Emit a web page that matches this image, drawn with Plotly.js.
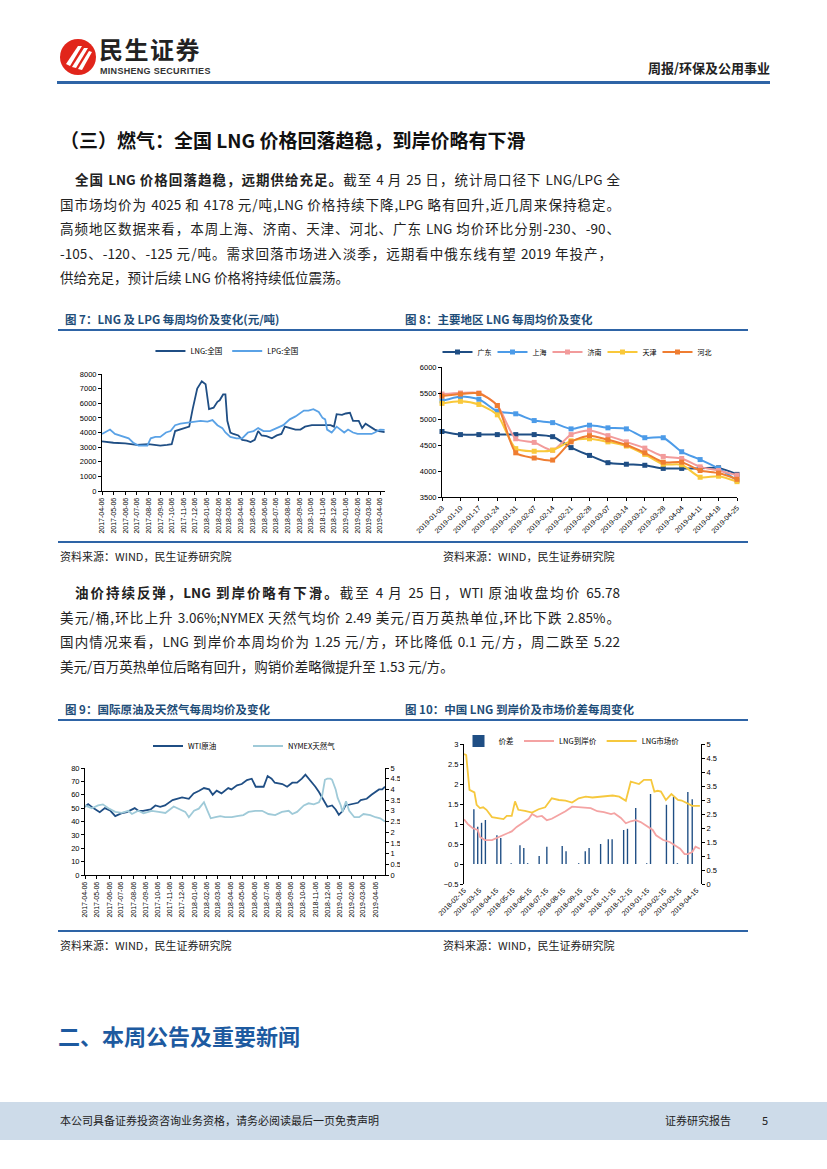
<!DOCTYPE html>
<html><head><meta charset="utf-8">
<script src="https://cdn.plot.ly/plotly-3.0.1.min.js"></script>
<style>
body{margin:0;width:827px;height:1169px;position:relative;background:#fff;font-family:"Noto Sans CJK SC",sans-serif;overflow:hidden}
.t{position:absolute;white-space:nowrap;color:#222;line-height:1}
.j{text-align:justify;text-align-last:justify}
.ch{position:absolute}
.hl{position:absolute;background:#2e64a6}
.cap{position:absolute;white-space:nowrap;color:#1f4e79;font-weight:bold;font-size:11.5px;line-height:1}
.src{position:absolute;white-space:nowrap;color:#222;font-size:11px;line-height:1}
</style></head><body>

<!-- header -->
<svg style="position:absolute;left:58px;top:37px" width="42" height="42" viewBox="0 0 42 42">
  <circle cx="20" cy="20" r="18" fill="#e1251b"/>
  <path d="M8 27 L20 9 L24 9 L12 29 Z" fill="#fff"/>
  <path d="M14 30 L26 11 L30 11 L18 31 Z" fill="#fff"/>
  <path d="M20 32 L31 14 L34 15 L24 33 Z" fill="#fff"/>
</svg>
<div class="t" style="left:99px;top:37px;font-size:24px;font-weight:bold;color:#222;letter-spacing:1.5px">民生证券</div>
<div class="t" style="left:100px;top:67px;font-size:9px;font-weight:bold;color:#333;font-family:'Liberation Sans Narrow','Liberation Sans',sans-serif;letter-spacing:0.3px">MINSHENG SECURITIES</div>
<div class="t" style="right:57px;top:61px;font-size:13px;font-weight:bold;color:#222">周报/环保及公用事业</div>
<div class="hl" style="left:57px;top:81px;width:713px;height:3px"></div>

<div class="t" style="left:60px;top:130px;font-size:19px;font-weight:bold;color:#111">（三）燃气：全国 LNG 价格回落趋稳，到岸价略有下滑</div>

<div class="t j" style="left:75px;top:173px;width:545px;font-size:13.5px"><b>全国 LNG 价格回落趋稳，远期供给充足。</b>截至 4 月 25 日，统计局口径下 LNG/LPG 全</div>
<div class="t j" style="left:60px;top:197.5px;width:560px;font-size:13.5px">国市场均价为 4025 和 4178 元/吨,LNG 价格持续下降,LPG 略有回升,近几周来保持稳定。</div>
<div class="t j" style="left:60px;top:222px;width:560px;font-size:13.5px">高频地区数据来看，本周上海、济南、天津、河北、广东 LNG 均价环比分别-230、-90、</div>
<div class="t j" style="left:60px;top:246.5px;width:552px;font-size:13.5px">-105、-120、-125 元/吨。需求回落市场进入淡季，远期看中俄东线有望 2019 年投产，</div>
<div class="t" style="left:60px;top:271px;font-size:13.5px">供给充足，预计后续 LNG 价格将持续低位震荡。</div>

<div class="cap" style="left:65px;top:314px">图 7：LNG 及 LPG 每周均价及变化(元/吨)</div>
<div class="cap" style="left:405px;top:314px">图 8：主要地区 LNG 每周均价及变化</div>
<div class="hl" style="left:58px;top:329px;width:690px;height:1.5px"></div>

<div id="c7" class="ch" style="left:60px;top:335px;width:335px;height:205px"></div>
<div id="c8" class="ch" style="left:400px;top:335px;width:350px;height:205px"></div>

<div class="hl" style="left:58px;top:541px;width:690px;height:1.5px"></div>
<div class="src" style="left:60px;top:551px">资料来源：WIND，民生证券研究院</div>
<div class="src" style="left:443px;top:551px">资料来源：WIND，民生证券研究院</div>

<div class="t j" style="left:75px;top:586px;width:545px;font-size:13.5px"><b>油价持续反弹，LNG 到岸价略有下滑。</b>截至 4 月 25 日，WTI 原油收盘均价 65.78</div>
<div class="t j" style="left:60px;top:610.5px;width:560px;font-size:13.5px">美元/桶,环比上升 3.06%;NYMEX 天然气均价 2.49 美元/百万英热单位,环比下跌 2.85%。</div>
<div class="t j" style="left:60px;top:635px;width:560px;font-size:13.5px">国内情况来看，LNG 到岸价本周均价为 1.25 元/方，环比降低 0.1 元/方，周二跌至 5.22</div>
<div class="t" style="left:60px;top:659.5px;font-size:13.5px">美元/百万英热单位后略有回升，购销价差略微提升至 1.53 元/方。</div>

<div class="cap" style="left:65px;top:704px">图 9：国际原油及天然气每周均价及变化</div>
<div class="cap" style="left:405px;top:704px">图 10：中国 LNG 到岸价及市场价差每周变化</div>
<div class="hl" style="left:58px;top:719px;width:690px;height:1.5px"></div>

<div id="c9" class="ch" style="left:55px;top:730px;width:345px;height:200px"></div>
<div id="c10" class="ch" style="left:400px;top:730px;width:350px;height:200px"></div>

<div class="hl" style="left:58px;top:930px;width:690px;height:1.5px"></div>
<div class="src" style="left:60px;top:940px">资料来源：WIND，民生证券研究院</div>
<div class="src" style="left:443px;top:940px">资料来源：WIND，民生证券研究院</div>

<div class="t" style="left:58px;top:1024px;font-size:22px;font-weight:bold;color:#1d5aa0">二、本周公告及重要新闻</div>

<div style="position:absolute;left:0;top:1102px;width:827px;height:38px;background:#cddbe9"></div>
<div class="t" style="left:60px;top:1115px;font-size:11px">本公司具备证券投资咨询业务资格，请务必阅读最后一页免责声明</div>
<div class="t" style="left:665px;top:1115px;font-size:11px">证券研究报告</div>
<div class="t" style="left:762px;top:1115px;font-size:11px">5</div>

<script>
// ---------- Chart 7 data ----------
const monthTicks = ['2017-04-06','2017-05-06','2017-06-06','2017-07-06','2017-08-06','2017-09-06','2017-10-06','2017-11-06','2017-12-06','2018-01-06','2018-02-06','2018-03-06','2018-04-06','2018-05-06','2018-06-06','2018-07-06','2018-08-06','2018-09-06','2018-10-06','2018-11-06','2018-12-06','2019-01-06','2019-02-06','2019-03-06','2019-04-06'];
const lngDates = ['2017-04-06','2017-05-06','2017-06-06','2017-07-06','2017-08-06','2017-09-06','2017-09-24','2017-10-06','2017-10-15','2017-11-06','2017-11-21','2017-11-30','2017-12-12','2017-12-24','2018-01-03','2018-01-12','2018-01-24','2018-02-03','2018-02-09','2018-02-18','2018-02-24','2018-03-01','2018-03-09','2018-03-17','2018-03-30','2018-04-09','2018-04-21','2018-05-01','2018-05-12','2018-05-21','2018-05-30','2018-06-12','2018-06-26','2018-07-09','2018-07-21','2018-07-30','2018-08-12','2018-08-27','2018-09-09','2018-09-21','2018-10-09','2018-10-27','2018-11-09','2018-11-27','2018-12-06','2018-12-13','2018-12-27','2019-01-06','2019-01-17','2019-01-25','2019-02-09','2019-02-18','2019-02-27','2019-03-09','2019-03-23','2019-04-03','2019-04-18'];
const lngVals = [3400,3300,3250,3150,3200,3100,3150,3200,4100,4300,4400,5600,7000,7500,7300,5600,5700,6100,6200,6600,6600,4800,4000,3900,3800,3500,3450,3350,3500,4100,3800,3750,3600,3800,3900,4400,4300,4200,4200,4400,4500,4500,4550,4500,4400,5250,5200,5300,5350,4800,4800,4300,4600,4450,4200,4100,4025];
const lpgDates = ['2017-04-06','2017-04-19','2017-04-27','2017-05-10','2017-05-24','2017-06-06','2017-06-15','2017-06-27','2017-07-11','2017-07-24','2017-08-03','2017-08-12','2017-08-24','2017-09-06','2017-09-21','2017-10-03','2017-10-15','2017-10-29','2017-11-15','2017-12-03','2017-12-21','2018-01-08','2018-01-21','2018-02-03','2018-02-16','2018-02-24','2018-03-09','2018-03-25','2018-04-09','2018-04-24','2018-05-09','2018-05-21','2018-06-04','2018-06-21','2018-07-09','2018-07-26','2018-08-12','2018-08-27','2018-09-18','2018-09-30','2018-10-13','2018-10-27','2018-11-06','2018-11-13','2018-11-18','2018-11-30','2018-12-13','2018-12-27','2019-01-02','2019-01-12','2019-01-25','2019-02-06','2019-03-02','2019-03-15','2019-03-23','2019-04-06','2019-04-18'];
const lpgVals = [3900,4100,4200,3900,3800,3700,3600,3300,3100,3100,3100,3600,3700,3700,4000,4100,4500,4600,4650,4700,4800,4750,4850,4500,4300,4000,3700,3600,3600,4000,4100,4300,4100,4100,4300,4500,4900,5100,5500,5500,5600,5400,5000,4900,4200,4000,4400,4100,4000,4200,4000,3900,3900,3900,4000,4200,4178];

// ---------- Chart 8 data ----------
const c8Dates = ['2019-01-03','2019-01-10','2019-01-17','2019-01-24','2019-01-31','2019-02-07','2019-02-14','2019-02-21','2019-02-28','2019-03-07','2019-03-14','2019-03-21','2019-03-28','2019-04-04','2019-04-11','2019-04-18','2019-04-25'];
const guangdong = [4760,4700,4700,4700,4700,4700,4660,4450,4300,4160,4130,4110,4050,4050,4050,4060,3935];
const shanghai = [5350,5430,5380,5150,5100,4970,4930,4810,4880,4830,4810,4640,4640,4370,4220,4050,3820];
const jinan = [5480,5500,5500,5260,4620,4550,4400,4700,4780,4680,4560,4440,4280,4240,4080,4010,3920];
const tianjin = [5300,5340,5280,5080,4430,4380,4400,4580,4620,4560,4480,4320,4130,4120,3880,3900,3795];
const hebei = [5440,5480,5490,5260,4350,4250,4210,4560,4680,4600,4500,4350,4170,4170,4010,3960,3840];
const c8Names = ['广东','上海','济南','天津','河北'];

// ---------- Chart 9 data ----------
const wtiDates = ['2017-04-06','2017-04-14','2017-04-27','2017-05-13','2017-05-26','2017-06-09','2017-06-21','2017-06-29','2017-07-06','2017-07-20','2017-07-27','2017-08-09','2017-08-18','2017-08-30','2017-09-18','2017-09-30','2017-10-12','2017-10-24','2017-11-12','2017-11-24','2017-12-06','2017-12-23','2018-01-04','2018-01-18','2018-01-30','2018-02-12','2018-02-21','2018-03-03','2018-03-15','2018-04-01','2018-04-09','2018-04-23','2018-05-05','2018-05-18','2018-05-30','2018-06-09','2018-06-21','2018-06-29','2018-07-09','2018-07-19','2018-07-27','2018-08-15','2018-08-27','2018-09-09','2018-09-21','2018-10-03','2018-10-12','2018-10-24','2018-11-06','2018-11-15','2018-11-24','2018-12-06','2018-12-18','2018-12-27','2019-01-04','2019-01-14','2019-01-21','2019-02-03','2019-02-21','2019-02-28','2019-03-15','2019-03-27','2019-04-15','2019-04-23','2019-04-30'];
const wtiVals = [51,53,50,47,50,48,44,45,46,47,48,50,48,48,49,52,51,52,56,57,58,57,61,63,65,64,60,63,61,65,64,67,68,71,72,66,66,66,74,72,69,68,66,69,69,72,75,71,66,62,57,51,52,49,45,48,52,53,54,56,57,60,64,64,66];
const nymexDates = ['2017-04-06','2017-04-23','2017-05-09','2017-05-21','2017-06-04','2017-06-21','2017-07-07','2017-07-24','2017-08-02','2017-08-18','2017-08-31','2017-09-21','2017-10-08','2017-10-25','2017-11-15','2017-12-02','2017-12-14','2017-12-23','2018-01-05','2018-01-17','2018-01-30','2018-02-08','2018-02-16','2018-02-28','2018-03-12','2018-03-24','2018-04-10','2018-04-23','2018-05-09','2018-05-22','2018-06-08','2018-06-25','2018-07-11','2018-07-28','2018-08-14','2018-08-31','2018-09-09','2018-09-21','2018-10-08','2018-10-20','2018-11-02','2018-11-15','2018-11-23','2018-11-30','2018-12-06','2018-12-14','2018-12-18','2018-12-27','2019-01-01','2019-01-09','2019-01-13','2019-01-22','2019-01-30','2019-02-12','2019-02-24','2019-03-07','2019-03-24','2019-04-06','2019-04-18','2019-04-30'];
const nymexVals = [3.25,3.12,3.25,3.3,3.12,2.95,2.9,3.0,2.85,3.0,2.88,3.0,2.95,2.9,3.2,3.05,2.95,2.7,3.0,3.1,3.4,3.0,2.65,2.7,2.75,2.7,2.7,2.75,2.8,2.95,3.0,3.0,2.85,2.8,2.95,3.0,2.85,2.95,3.25,3.35,3.3,3.4,3.7,4.45,4.5,4.5,4.45,4.0,3.6,3.25,2.95,3.45,3.0,2.7,2.7,2.85,2.8,2.7,2.65,2.5];
const c9Right = ['0','0.5','1','1.5','2','2.5','3','3.5','4','4.5','5'];

// ---------- Chart 10 data ----------
const c10Ticks = ['2018-02-15','2018-03-15','2018-04-15','2018-05-15','2018-06-15','2018-07-15','2018-08-15','2018-09-15','2018-10-15','2018-11-15','2018-12-15','2019-01-15','2019-02-15','2019-03-15','2019-04-15'];
const gapDates = ['2018-03-05','2018-03-12','2018-03-19','2018-03-26','2018-04-16','2018-04-23','2018-05-12','2018-05-28','2018-06-04','2018-06-11','2018-07-02','2018-07-16','2018-08-13','2018-08-20','2018-09-12','2018-09-24','2018-10-01','2018-10-22','2018-11-05','2018-11-12','2018-12-03','2018-12-10','2018-12-25','2019-01-14','2019-01-21','2019-02-19','2019-03-04','2019-03-11','2019-03-30','2019-04-07'];
const gapVals = [1.37,0.93,1.03,1.1,0.72,0.65,0.02,0.47,0.4,0.02,0.2,0.43,0.45,0.32,0.02,0.32,0.4,0.5,0.62,0.62,0.85,0.88,1.4,0.02,1.75,1.48,1.68,0.02,1.8,1.62];
const landDates = ['2018-02-15','2018-02-22','2018-03-03','2018-03-12','2018-03-16','2018-03-25','2018-04-07','2018-04-19','2018-05-01','2018-05-13','2018-05-22','2018-06-03','2018-06-13','2018-06-19','2018-06-28','2018-07-07','2018-07-16','2018-07-25','2018-08-07','2018-08-19','2018-08-31','2018-09-09','2018-09-22','2018-10-04','2018-10-16','2018-10-28','2018-11-10','2018-11-16','2018-11-28','2018-12-07','2018-12-16','2018-12-25','2019-01-03','2019-01-16','2019-01-25','2019-01-31','2019-02-13','2019-02-25','2019-03-09','2019-03-16','2019-03-24','2019-03-30','2019-04-07','2019-04-13','2019-04-21'];
const landVals = [2.31,2.14,1.99,1.93,1.68,1.57,1.57,1.68,1.78,1.88,2.04,2.21,2.33,2.5,2.4,2.43,2.28,2.33,2.46,2.6,2.76,2.74,2.71,2.71,2.6,2.57,2.5,2.53,2.36,2.17,2.24,2.28,2.21,2.04,1.93,1.74,1.57,1.5,1.36,1.26,1.07,1.07,1.14,1.33,1.26];
const mktDates = ['2018-02-15','2018-02-19','2018-02-25','2018-03-06','2018-03-10','2018-03-16','2018-03-22','2018-03-28','2018-04-07','2018-04-19','2018-04-28','2018-05-04','2018-05-13','2018-05-19','2018-05-25','2018-06-06','2018-06-19','2018-07-01','2018-07-13','2018-07-25','2018-08-07','2018-08-19','2018-08-31','2018-09-12','2018-09-25','2018-10-07','2018-10-19','2018-10-31','2018-11-13','2018-11-25','2018-12-07','2018-12-16','2018-12-25','2018-12-31','2019-01-09','2019-01-22','2019-01-28','2019-02-03','2019-02-09','2019-02-18','2019-02-28','2019-03-06','2019-03-12','2019-03-19','2019-03-28','2019-04-07','2019-04-21'];
const mktVals = [4.64,4.6,3.36,3.27,2.83,2.71,2.74,2.65,2.39,2.35,2.32,2.43,2.43,2.95,2.65,2.61,2.55,2.67,2.74,3.06,3.0,2.98,2.91,3.06,3.12,3.09,3.12,3.15,3.16,3.12,2.97,3.66,3.62,3.57,3.72,3.72,3.3,3.33,3.3,3.0,3.21,3.12,3.0,2.98,2.89,2.79,2.79];

// ---------- styles ----------
const numFont = {family:'Liberation Sans, Arial, sans-serif', size:7.5, color:'#000'};
const legFont = {family:'Noto Sans CJK SC, Liberation Sans, sans-serif', size:7.5, color:'#000'};
const ax = {showgrid:false, zeroline:false, showline:true, linecolor:'#000', linewidth:1,
  ticks:'outside', ticklen:3, tickcolor:'#000', tickwidth:1, tickfont:numFont};
const base = {paper_bgcolor:'rgba(0,0,0,0)', plot_bgcolor:'rgba(0,0,0,0)', showlegend:true};
const cfg = {staticPlot:true, displayModeBar:false};
const DARK = '#1f4e84';

// Chart 7
Plotly.newPlot('c7', [
  {x:lngDates, y:lngVals, name:'LNG:全国', type:'scatter', mode:'lines', line:{color:DARK, width:1.8}},
  {x:lpgDates, y:lpgVals, name:'LPG:全国', type:'scatter', mode:'lines', line:{color:'#5aa2e6', width:1.8}}
], Object.assign({}, base, {
  width:335, height:205, margin:{l:42, r:10, t:39, b:49, autoexpand:false},
  xaxis:Object.assign({}, ax, {type:'date', range:['2017-04-06','2019-04-19'], tickmode:'array', tickvals:monthTicks, ticktext:monthTicks, tickangle:-90, tickfont:Object.assign({}, numFont, {size:7})}),
  yaxis:Object.assign({}, ax, {range:[0,8000], tickmode:'linear', tick0:0, dtick:1000}),
  legend:{orientation:'h', xref:'container', yref:'container', x:0.27, y:1-16/205, xanchor:'left', yanchor:'middle', font:legFont, bgcolor:'rgba(0,0,0,0)'}
}), cfg);

// Chart 8
const c8Series = [guangdong, shanghai, jinan, tianjin, hebei];
const c8Colors = [DARK, '#4c9be8', '#f29b9b', '#f9c83a', '#ef7d31'];
Plotly.newPlot('c8', c8Series.map((s, i) => ({
  x:c8Dates, y:s, name:c8Names[i], type:'scatter', mode:'lines+markers', cliponaxis:false,
  line:{color:c8Colors[i], width:2, shape:'spline', smoothing:0.7},
  marker:{symbol:'square', size:5, color:c8Colors[i]}
})), Object.assign({}, base, {
  width:350, height:205, margin:{l:42, r:13, t:32, b:43, autoexpand:false},
  xaxis:Object.assign({}, ax, {type:'category', range:[0,16], tickangle:-45, tickfont:Object.assign({}, numFont, {size:7})}),
  yaxis:Object.assign({}, ax, {range:[3500,6000], tickmode:'linear', tick0:3500, dtick:500}),
  legend:{orientation:'h', xref:'container', yref:'container', x:0.5, y:1-17/205, xanchor:'center', yanchor:'middle', font:Object.assign({}, legFont, {size:7}), bgcolor:'rgba(0,0,0,0)', entrywidth:10}
}), cfg);

// Chart 9
Plotly.newPlot('c9', [
  {x:wtiDates, y:wtiVals, name:'WTI原油', type:'scatter', mode:'lines', line:{color:DARK, width:1.8}},
  {x:nymexDates, y:nymexVals, name:'NYMEX天然气', type:'scatter', mode:'lines', yaxis:'y2', line:{color:'#9fcad8', width:1.8}}
], Object.assign({}, base, {
  width:345, height:200, margin:{l:30, r:15, t:38, b:55, autoexpand:false},
  xaxis:Object.assign({}, ax, {type:'date', range:['2017-04-06','2019-04-30'], tickmode:'array', tickvals:monthTicks, ticktext:monthTicks, tickangle:-90, tickfont:Object.assign({}, numFont, {size:7})}),
  yaxis:Object.assign({}, ax, {range:[0,80], tickmode:'linear', tick0:0, dtick:10}),
  yaxis2:Object.assign({}, ax, {overlaying:'y', side:'right', range:[0,5], tickmode:'array', tickvals:c9Right.map(Number), ticktext:c9Right}),
  legend:{orientation:'h', xref:'container', yref:'container', x:93/345, y:1-16/200, xanchor:'left', yanchor:'middle', font:legFont, bgcolor:'rgba(0,0,0,0)', entrywidth:55}
}), cfg);

// Chart 10
Plotly.newPlot('c10', [
  {x:gapDates, y:gapVals, name:'价差', type:'bar', width:2.5*86400000, marker:{color:DARK}},
  {x:landDates, y:landVals, name:'LNG到岸价', type:'scatter', mode:'lines', yaxis:'y2', line:{color:'#f4a3a3', width:1.8}},
  {x:mktDates, y:mktVals, name:'LNG市场价', type:'scatter', mode:'lines', yaxis:'y2', line:{color:'#f6c83e', width:1.8}}
], Object.assign({}, base, {
  width:350, height:200, margin:{l:64, r:49, t:14, b:46, autoexpand:false},
  xaxis:Object.assign({}, ax, {type:'date', range:['2018-02-15','2019-04-23'], showline:false, ticks:'', tickmode:'array', tickvals:c10Ticks, ticktext:c10Ticks, tickangle:-45, tickfont:Object.assign({}, numFont, {size:7})}),
  yaxis:Object.assign({}, ax, {range:[-0.5,3], tickmode:'linear', tick0:-0.5, dtick:0.5}),
  yaxis2:Object.assign({}, ax, {overlaying:'y', side:'right', range:[0,5], tickmode:'linear', tick0:0, dtick:0.5}),
  legend:{orientation:'h', xref:'container', yref:'container', x:0.49, y:1-11/200, xanchor:'center', yanchor:'middle', font:legFont, bgcolor:'rgba(0,0,0,0)'}
}), cfg);
</script>
</body></html>
